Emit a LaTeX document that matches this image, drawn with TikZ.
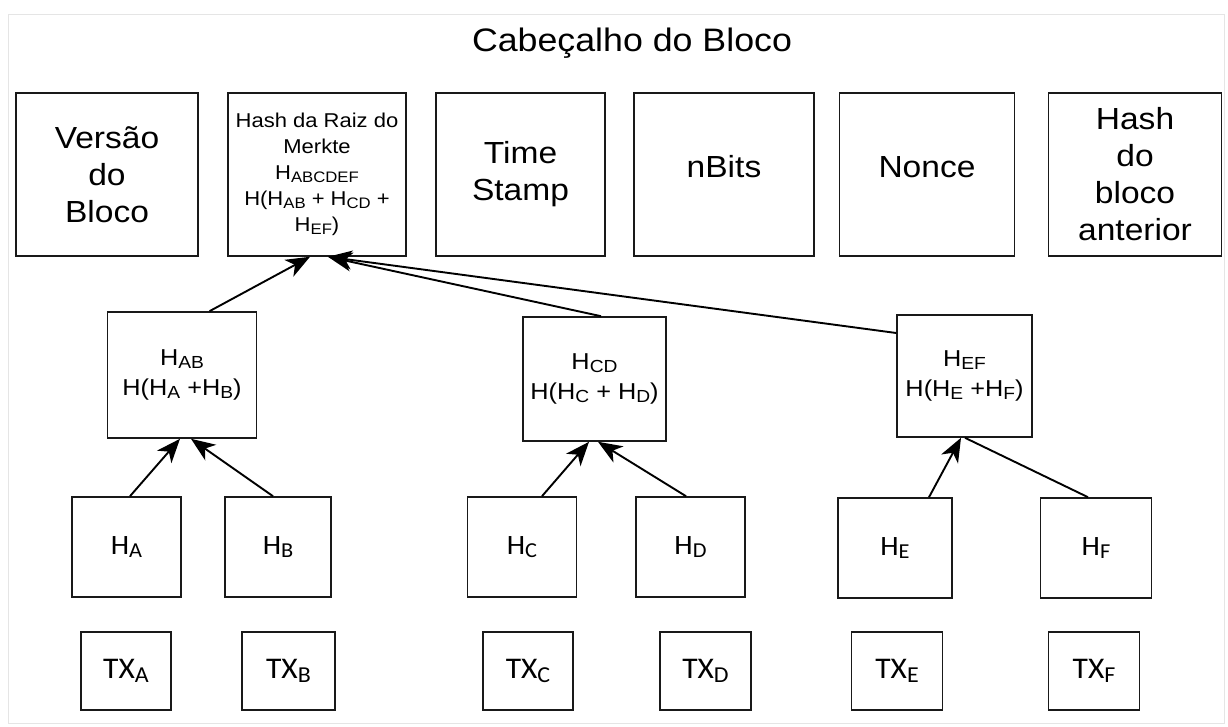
\documentclass[tikz,border=0pt]{standalone}
\usepackage{fontspec}
\usepackage{graphicx}
\setmainfont{Liberation Sans}[FakeStretch=1.1]
\newfontfamily\leaffont{Carlito}[FakeStretch=1.05]
\newcommand\lsub[1]{\raisebox{-0.13em}{\scalebox{0.76}{#1}}}
\usetikzlibrary{arrows.meta,calc}
\tikzset{
  box/.style={draw=black!90, line width=1.6pt, inner sep=0pt, align=center},
  arr/.style={line width=1.9pt, -{Stealth[length=24pt,width=19pt,inset=7pt]}},
  conn/.style={line width=1.9pt},
  bigtxt/.style={font=\fontsize{30.5}{37}\selectfont},
  mertxt/.style={font=\fontsize{20}{26}\selectfont},
  midtxt/.style={font=\fontsize{23}{30}\selectfont},
  leaftxt/.style={font=\leaffont\fontsize{28}{30}\selectfont},
  txtxt/.style={font=\leaffont\fontsize{30}{32}\selectfont},
  titletxt/.style={font=\fontsize{32.5}{38}\selectfont}
}
\begin{document}
\begin{tikzpicture}[x=1pt,y=-1pt]
\useasboundingbox (0,0) rectangle (1228,727);
\fill[white] (0,0) rectangle (1228,727);
\draw[black!10, line width=0.8pt] (8,14) rectangle (1224,723);

\node[titletxt] (title) at (632,43) {Cabeçalho do Bloco};

% header boxes
\node[box, bigtxt, minimum width=182pt, minimum height=163pt] (ver) at (107,174.5) {Versão\\do\\Bloco};
\node[box, mertxt, minimum width=178pt, minimum height=163pt] (mer) at (317,174.5)
  {Hash da Raiz do\\Merkte\\H\lsub{ABCDEF}\\H(H\lsub{AB} + H\lsub{CD} +\\H\lsub{EF})};
\node[box, bigtxt, minimum width=169pt, minimum height=163pt] (ts) at (520.5,174.5) {Time\\Stamp};
\node[box, minimum width=180pt, minimum height=163pt] (nb) at (724,174.5) {};
\node[bigtxt] (nbt) at (724,167) {nBits};
\node[box, minimum width=175pt, minimum height=163pt] (no) at (927,174.5) {};
\node[bigtxt] (not) at (927,167) {Nonce};
\node[box, bigtxt, minimum width=173pt, minimum height=163pt] (ant) at (1135,174.5) {Hash\\do\\bloco\\anterior};

% middle level
\node[box, midtxt, minimum width=149pt, minimum height=126pt] (hab) at (182,375) {H\lsub{AB}\\H(H\lsub{A} +H\lsub{B})};
\node[box, midtxt, minimum width=143pt, minimum height=124pt] (hcd) at (594.5,379) {H\lsub{CD}\\H(H\lsub{C} + H\lsub{D})};
\node[box, midtxt, minimum width=135pt, minimum height=122pt] (hef) at (964.5,376) {H\lsub{EF}\\H(H\lsub{E} +H\lsub{F})};

% leaf hashes
\node[box, leaftxt, minimum width=109pt, minimum height=100pt] (hA) at (126.5,547) {H\lsub{A}};
\node[box, leaftxt, minimum width=106pt, minimum height=100pt] (hB) at (278,547) {H\lsub{B}};
\node[box, leaftxt, minimum width=109pt, minimum height=100pt] (hC) at (522,547) {H\lsub{C}};
\node[box, leaftxt, minimum width=109pt, minimum height=100pt] (hD) at (690.5,547) {H\lsub{D}};
\node[box, leaftxt, minimum width=114pt, minimum height=100pt] (hE) at (895,548) {H\lsub{E}};
\node[box, leaftxt, minimum width=111pt, minimum height=100pt] (hF) at (1096,548) {H\lsub{F}};

% transactions
\node[box, txtxt, minimum width=90pt, minimum height=78pt] (tA) at (126,671) {TX\lsub{A}};
\node[box, txtxt, minimum width=93pt, minimum height=78pt] (tB) at (288.5,671) {TX\lsub{B}};
\node[box, txtxt, minimum width=90pt, minimum height=78pt] (tC) at (528,671) {TX\lsub{C}};
\node[box, txtxt, minimum width=91pt, minimum height=78pt] (tD) at (705.5,671) {TX\lsub{D}};
\node[box, txtxt, minimum width=91pt, minimum height=78pt] (tE) at (897,671) {TX\lsub{E}};
\node[box, txtxt, minimum width=91pt, minimum height=78pt] (tF) at (1094,671) {TX\lsub{F}};

% connectors
\draw[arr] ([xshift=3.5pt]hA.north) -- ([xshift=-2pt]hab.south);
\draw[arr] ([xshift=-5pt]hB.north) -- ([xshift=9pt]hab.south);
\draw[arr] ([xshift=27.5pt]hab.north) -- ([xshift=-7pt]mer.south);
\draw[arr] ([xshift=6.5pt]hcd.north) -- ([xshift=11pt]mer.south);
\draw[arr] ([yshift=43pt]hef.west) -- ([xshift=11pt]mer.south);
\draw[arr] ([xshift=20pt]hC.north) -- ([xshift=-5.5pt]hcd.south);
\draw[arr] ([xshift=-4.5pt]hD.north) -- ([xshift=3.5pt]hcd.south);
\draw[arr] ([xshift=34pt]hE.north) -- ([xshift=-3.5pt]hef.south);
\draw[conn] ([xshift=-8pt]hF.north) -- ([xshift=0.5pt]hef.south);
\end{tikzpicture}
\end{document}
